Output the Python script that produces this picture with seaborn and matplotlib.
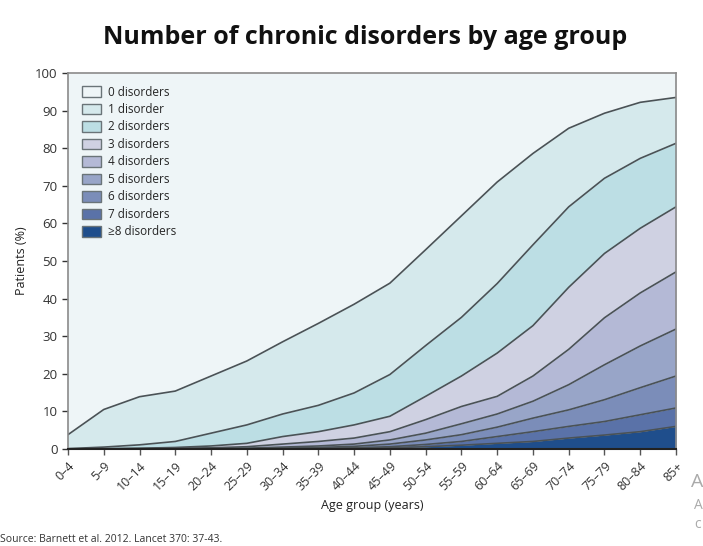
import numpy as np
import matplotlib
matplotlib.use("Agg")
import matplotlib.pyplot as plt
from matplotlib.patches import Patch
import seaborn as sns

age_groups = ["0–4", "5–9", "10–14", "15–19", "20–24", "25–29", "30–34", "35–39",
              "40–44", "45–49", "50–54", "55–59", "60–64", "65–69", "70–74",
              "75–79", "80–84", "85+"]

# % of patients with at least k disorders (boundary lines)
atleast_1 = [3.8, 10.5, 13.9, 15.4, 19.4, 23.4, 28.5, 33.4, 38.5, 44.1, 53.0, 62.0, 71.0, 78.6, 85.3, 89.3, 92.2, 93.5]
atleast_2 = [0.1, 0.5, 1.1, 2.0, 4.2, 6.4, 9.3, 11.6, 14.9, 19.8, 27.5, 35.0, 44.0, 54.3, 64.4, 72.0, 77.3, 81.3]
atleast_3 = [0.0, 0.1, 0.2, 0.4, 0.8, 1.5, 3.3, 4.6, 6.4, 8.7, 14.0, 19.4, 25.5, 32.8, 43.0, 52.0, 58.7, 64.4]
atleast_4 = [0.0, 0.0, 0.1, 0.2, 0.3, 0.6, 1.3, 2.0, 2.9, 4.6, 7.8, 11.3, 14.0, 19.4, 26.5, 34.9, 41.5, 47.1]
atleast_5 = [0.0, 0.0, 0.0, 0.1, 0.1, 0.2, 0.5, 0.8, 1.3, 2.4, 4.2, 6.7, 9.3, 12.7, 17.1, 22.4, 27.4, 31.9]
atleast_6 = [0.0, 0.0, 0.0, 0.0, 0.05, 0.1, 0.2, 0.4, 0.7, 1.3, 2.4, 3.8, 5.8, 8.2, 10.4, 13.1, 16.3, 19.4]
atleast_7 = [0.0, 0.0, 0.0, 0.0, 0.0, 0.05, 0.1, 0.2, 0.3, 0.6, 1.2, 2.0, 3.3, 4.6, 6.0, 7.3, 9.1, 10.9]
atleast_8 = [0.0, 0.0, 0.0, 0.0, 0.0, 0.0, 0.05, 0.1, 0.15, 0.3, 0.6, 1.0, 1.5, 2.0, 2.9, 3.7, 4.6, 6.0]

labels = ["0 disorders", "1 disorder", "2 disorders", "3 disorders", "4 disorders",
          "5 disorders", "6 disorders", "7 disorders", "≥8 disorders"]
colors = ["#eef5f7", "#d5e9ec", "#bcdee4", "#cfd1e2", "#b4b9d6",
          "#98a5c8", "#7b8db9", "#5a72a8", "#1f4e8c"]

sns.set_style("ticks")
plt.rcParams["font.family"] = ["Open Sans", "DejaVu Sans"]

x = np.arange(len(age_groups))
hundred = [100.0] * len(age_groups)
zero = [0.0] * len(age_groups)
bounds = [hundred, atleast_1, atleast_2, atleast_3, atleast_4,
          atleast_5, atleast_6, atleast_7, atleast_8, zero]

fig = plt.figure(figsize=(7.03, 5.46), dpi=100)
ax = fig.add_axes([0.0967, 0.1777, 0.8649, 0.6886])

for i in range(len(labels)):
    ax.fill_between(x, bounds[i + 1], bounds[i], color=colors[i], linewidth=0)

for b in bounds[1:-1]:
    sns.lineplot(x=x, y=b, ax=ax, color="#4a5256", linewidth=1.2)

ax.set_xlim(0, len(age_groups) - 1)
ax.set_ylim(0, 100)
ax.set_yticks(range(0, 101, 10))
ax.set_xticks(x)
ax.set_xticklabels(age_groups, rotation=45, ha="right", rotation_mode="anchor",
                   fontsize=9, color="#333333")
ax.tick_params(axis="y", labelsize=9.5, colors="#333333", length=4, width=1)
ax.tick_params(axis="x", length=4, width=1, color="#555555")
for s in ["top", "right", "left"]:
    ax.spines[s].set_color("#8a8a8a")
    ax.spines[s].set_linewidth(1.2)
ax.spines["bottom"].set_color("#222222")
ax.spines["bottom"].set_linewidth(1.5)

ax.set_xlabel("Age group (years)", fontsize=9, color="#222222", labelpad=4)
ax.set_ylabel("Patients (%)", fontsize=9, color="#222222", labelpad=5)

handles = [Patch(facecolor=c, edgecolor="#6a7478", linewidth=1.0) for c in colors]
ax.legend(handles, labels, loc="upper left", bbox_to_anchor=(0.005, 0.995),
          frameon=False, fontsize=8.5, handlelength=1.6, handleheight=1.0,
          labelspacing=0.38, handletextpad=0.6, borderaxespad=0.5)

fig.text(0.52, 0.932, "Number of chronic disorders by age group",
         ha="center", va="center", fontsize=18, fontweight="bold", color="#111111")
fig.text(0.0, 0.012, "Source: Barnett et al. 2012. Lancet 370: 37-43.",
         ha="left", va="center", fontsize=7.5, color="#333333")
fig.text(0.983, 0.118, "A", ha="left", va="center", fontsize=14, color="#aaaaaa")
fig.text(0.987, 0.075, "A", ha="left", va="center", fontsize=10, color="#aaaaaa")
fig.text(0.987, 0.04, "c", ha="left", va="center", fontsize=10, color="#aaaaaa")

fig.savefig("out.png", dpi=100)
